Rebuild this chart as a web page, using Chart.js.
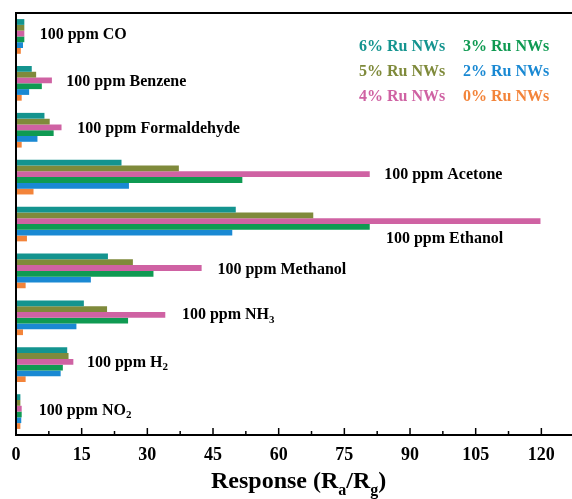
<!DOCTYPE html>
<html>
<head>
<meta charset="utf-8">
<script src="https://cdn.jsdelivr.net/npm/chart.js@4.4.1/dist/chart.umd.min.js"></script>
<style>
  html, body { margin: 0; padding: 0; background: #fff; overflow: hidden; }
  canvas { display: block; }
</style>
</head>
<body>
<canvas id="grafico" width="572" height="499"></canvas>
<script>
// Gases (de arriba hacia abajo)
const gases = ['CO', 'Benzene', 'Formaldehyde', 'Acetone', 'Ethanol', 'Methanol', 'NH3', 'H2', 'NO2'];

// Series (respuesta Ra/Rg)
const series = ['6% Ru NWs', '5% Ru NWs', '4% Ru NWs', '3% Ru NWs', '2% Ru NWs', '0% Ru NWs'];
const ru6 = [1.9, 3.6, 6.5, 24.1, 50.2, 21.0, 15.5, 11.7, 1.0];
const ru5 = [1.9, 4.6, 7.7, 37.2, 67.9, 26.7, 20.8, 12.0, 1.0];
const ru4 = [1.9, 8.2, 10.4, 80.8, 119.8, 42.4, 34.1, 13.1, 1.3];
const ru3 = [1.9, 5.9, 8.6, 51.7, 80.8, 31.4, 25.6, 10.7, 1.3];
const ru2 = [1.6, 3.0, 4.9, 25.8, 49.4, 17.1, 13.8, 10.2, 1.2];
const ru0 = [1.1, 1.3, 1.3, 4.0, 2.5, 2.2, 1.6, 2.2, 1.0];

// Ticks del eje X
const xTicks = [0, 15, 30, 45, 60, 75, 90, 105, 120];
const xMax = 127;

const colores = ['#14948f', '#7f8a3b', '#cf62a3', '#0f9a52', '#1a89d3', '#f3843a'];

// Posición de las etiquetas de cada gas (x en unidades de datos, dy en px)
const etiquetaX = [5.4, 11.5, 14.0, 84.1, 84.5, 46.0, 37.9, 16.2, 5.2];
const etiquetaDy = [-1.5, -1.5, -1, -2, 14.5, -1, -2.5, -2, -1];

// Leyenda en texto de color
const leyendaX = [359, 359, 359, 463, 463, 463];
const leyendaY = [47, 72, 97, 47, 72, 97];

const SERIF = '"Liberation Serif", "Times New Roman", serif';

// Divide "NH3" -> ["NH", "3"] para el subíndice
function partes(nombre) {
  const m = nombre.match(/^(.*?[A-Z])(\d)$/);
  return m ? [{ t: '100 ppm ' + m[1] }, { t: m[2], sub: true }] : [{ t: '100 ppm ' + nombre }];
}

function textoRico(ctx, trozos, x, y, size) {
  let cx = x;
  trozos.forEach(tr => {
    const s = tr.sub ? Math.round(size * 0.68) : size;
    ctx.font = 'bold ' + s + 'px ' + SERIF;
    ctx.fillText(tr.t, cx, tr.sub ? y + size * 0.3 : y);
    cx += ctx.measureText(tr.t).width;
  });
}

const pluginMarco = {
  id: 'marco',
  afterDraw(chart) {
    const ctx = chart.ctx;
    const a = chart.chartArea;
    const xs = chart.scales.x;
    const ys = chart.scales.y;
    ctx.save();

    // Marco (lado derecho recortado)
    ctx.strokeStyle = '#000';
    ctx.lineWidth = 2;
    ctx.beginPath();
    ctx.moveTo(chart.width, a.top);
    ctx.lineTo(a.left, a.top);
    ctx.lineTo(a.left, a.bottom);
    ctx.lineTo(chart.width, a.bottom);
    ctx.stroke();

    // Ticks hacia dentro
    ctx.lineWidth = 1.5;
    for (let v = 7.5; v <= xMax; v += 7.5) {
      const px = xs.getPixelForValue(v);
      const largo = v % 15 === 0 ? 7 : 4;
      ctx.beginPath();
      ctx.moveTo(px, a.bottom);
      ctx.lineTo(px, a.bottom - largo);
      ctx.stroke();
    }

    // Etiquetas de los gases
    ctx.fillStyle = '#000';
    ctx.textBaseline = 'middle';
    ctx.textAlign = 'left';
    gases.forEach((g, i) => {
      const px = xs.getPixelForValue(etiquetaX[i]);
      const py = ys.getPixelForValue(i) + etiquetaDy[i];
      textoRico(ctx, partes(g), px, py, 16);
    });

    // Leyenda
    ctx.font = 'bold 16px ' + SERIF;
    series.forEach((s, i) => {
      ctx.fillStyle = colores[i];
      ctx.fillText(s, leyendaX[i], leyendaY[i]);
    });

    // Título del eje X
    ctx.fillStyle = '#000';
    ctx.textBaseline = 'alphabetic';
    const titulo = [{ t: 'Response (R' }, { t: 'a', sub: true }, { t: '/R' }, { t: 'g', sub: true }, { t: ')' }];
    textoRico(ctx, titulo, 211, 488, 24);

    ctx.restore();
  }
};

const datasets = [ru6, ru5, ru4, ru3, ru2, ru0].map((d, i) => ({
  label: series[i],
  data: d,
  backgroundColor: colores[i],
  borderWidth: 0,
  barPercentage: 1.0,
  categoryPercentage: 0.74
}));

const ctxGrafico = document.getElementById('grafico').getContext('2d');
const grafico = new Chart(ctxGrafico, {
  type: 'bar',
  data: {
    labels: gases.map(g => '100 ppm ' + g),
    datasets: datasets
  },
  options: {
    indexAxis: 'y',
    responsive: false,
    animation: false,
    layout: { padding: { left: 16, top: 13, right: 0, bottom: 0 } },
    plugins: {
      legend: { display: false },
      tooltip: { enabled: false }
    },
    scales: {
      y: { display: false },
      x: {
        min: 0,
        max: xMax,
        grid: { display: false, drawTicks: false },
        border: { display: false },
        ticks: {
          color: '#000',
          padding: 10,
          maxRotation: 0,
          font: { family: SERIF, size: 18, weight: 'bold' }
        },
        afterBuildTicks: scale => {
          scale.ticks = xTicks.map(v => ({ value: v }));
        },
        afterFit: scale => {
          scale.height = 64;
        }
      }
    }
  },
  plugins: [pluginMarco]
});
</script>
</body>
</html>
